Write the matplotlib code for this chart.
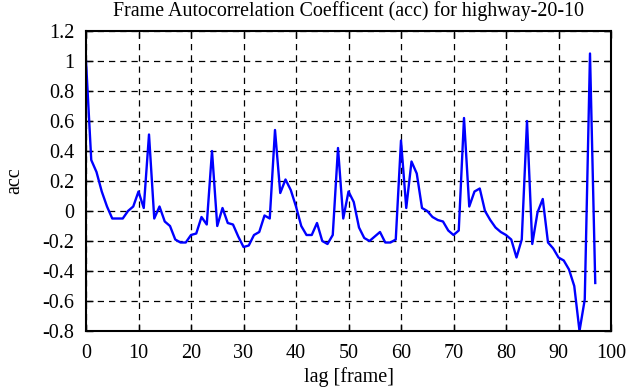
from matplotlib import pyplot as plt

# lag in frames and the autocorrelation value
lags = list(range(0, 98))
acc = [1.0, 0.34, 0.26, 0.13, 0.03, -0.05, -0.05, -0.05, 0.0, 0.03,
       0.13, 0.02, 0.51, -0.05, 0.03, -0.07, -0.1, -0.19, -0.21, -0.21,
       -0.16, -0.15, -0.04, -0.09, 0.4, -0.1, 0.02, -0.08, -0.09, -0.17,
       -0.24, -0.23, -0.16, -0.14, -0.03, -0.05, 0.54, 0.12, 0.21, 0.14,
       0.03, -0.1, -0.16, -0.16, -0.08, -0.2, -0.22, -0.16, 0.42, -0.05,
       0.13, 0.06, -0.11, -0.18, -0.2, -0.17, -0.14, -0.21, -0.21, -0.19,
       0.47, 0.02, 0.33, 0.25, 0.02, 0.0, -0.04, -0.06, -0.07, -0.13,
       -0.16, -0.13, 0.62, 0.03, 0.13, 0.15, 0.0, -0.06, -0.11, -0.14,
       -0.16, -0.19, -0.31, -0.19, 0.6, -0.22, -0.01, 0.08, -0.21, -0.25,
       -0.31, -0.33, -0.39, -0.5, -0.8, -0.59, 1.05, -0.48]

xticks = list(range(0, 101, 10))
yticks = [-0.8, -0.6, -0.4, -0.2, 0, 0.2, 0.4, 0.6, 0.8, 1, 1.2]
yticklabels = ['-0.8', '-0.6', '-0.4', '-0.2', '0', '0.2', '0.4', '0.6', '0.8', '1', '1.2']

plt.rcParams['font.family'] = ['Liberation Serif', 'DejaVu Serif']

fig = plt.figure(figsize=(6.41, 3.87), dpi=100)
ax = fig.add_axes([86 / 641, 1 - 331 / 387, 525 / 641, 300 / 387])
ax.plot(lags, acc, c=(0, 0, 1), lw=1.7)

ax.set_xlim(0, 100)
ax.set_ylim(-0.8, 1.2)
ax.set_xticks(xticks)
ax.set_yticks(yticks)
ax.set_yticklabels(yticklabels)
ax.tick_params(direction='in', top=True, right=True, length=5, width=1,
               labelsize=14.5, colors='black')
ax.tick_params(axis='x', pad=9.5)
ax.tick_params(axis='y', pad=8.5)
ax.grid(True, ls=(0, (5, 4)), c='black', lw=0.9)
for s in ax.spines.values():
    s.set_linewidth(1.5)

ax.set_title('Frame Autocorrelation Coefficent (acc) for highway-20-10', fontsize=14.4, pad=11)
ax.set_xlabel('lag [frame]', fontsize=14.5)
ax.set_ylabel('acc', fontsize=14.5)
ax.xaxis.set_label_coords(0.5, -0.12)
ax.yaxis.set_label_coords(-0.118, 0.5)

fig.savefig('out.png', dpi=100)
